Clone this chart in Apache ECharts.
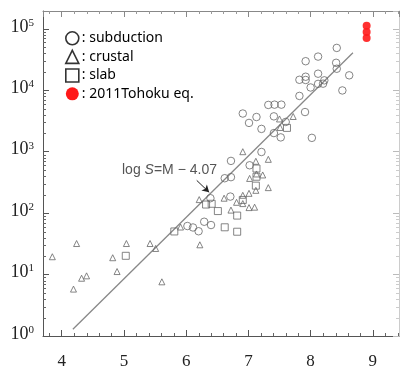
<!DOCTYPE html>
<html>
<head>
<meta charset="utf-8">
<script src="https://cdn.jsdelivr.net/npm/echarts@6/dist/echarts.min.js"></script>
<style>
html,body{margin:0;padding:0;background:#fff;}
#c{width:401px;height:370px;}
</style>
</head>
<body>
<div id="c"></div>
<script>
// ---- data (magnitude M, area S) ----
const subM = [8.42,8.12,7.92,8.41,8.42,8.62,8.12,7.82,7.92,7.92,8.22,8.12,8.20,8.00,8.51,7.82,7.32,7.42,7.53,6.91,7.13,7.41,7.91,7.01,7.21,7.41,7.52,8.02,7.21,6.72,7.02,6.62,6.72,6.71,6.39,6.29,6.40,6.02,6.11,6.20,7.60];
const subS = [48900,35300,29700,28000,22400,17500,18600,14800,16600,14700,14500,12700,12800,11100,9930,8090,5770,5830,5830,4180,3670,3760,4420,2940,2350,2010,1710,1680,989,708,601,370,385,186,175,72.4,64,61.7,58.4,50.7,3050];
const crustM = [7.50,7.72,7.51,6.91,7.32,7.12,7.13,7.02,7.23,7.32,7.12,7.01,6.91,6.61,6.81,6.91,7.01,7.10,6.72,6.21,5.91,6.22,4.24,5.04,5.42,3.85,4.82,5.51,4.89,4.32,4.40,4.19,5.61];
const crustS = [3410,3740,2480,1000,751,698,434,367,418,260,235,210,195,175,150,143,123,125,112,166,59.4,30.5,32,32,32,19.5,18.8,26.6,11.2,8.71,9.53,5.8,7.62];
const slabM = [7.62,7.13,7.13,7.12,6.32,6.41,6.91,6.51,6.82,6.62,6.82,5.81,5.03];
const slabS = [2440,532,391,280,138,142,164,108,91.2,58.8,49.8,50.3,20.2];
const tohokuM = [8.9,8.9,8.9];
const tohokuS = [112000,88500,70800];
// fitted line log S = M - 4.07 (end points)
const fitM = [4.18, 8.68];
const fitS = [1.29, 40700];
// annotation arrow (tail, head)
const arrowM = [6.17, 6.37];
const arrowS = [341, 218];
const seriesNames = ['subduction','crustal','slab','2011Tohoku eq.'];
const xTickLabels = [4,5,6,7,8,9];
const xMinorTicks = [3.8,4.2,4.4,4.6,4.8,5.2,5.4,5.6,5.8,6.2,6.4,6.6,6.8,7.2,7.4,7.6,7.8,8.2,8.4,8.6,8.8,9.2,9.4];
const yDecades = [1,10,100,1000,10000,100000];
const yMinorMult = [2,3,4,5,6,7,8,9];

const zip = (a,b) => a.map((v,i)=>[v,b[i]]);
const X_MIN = 3.7, X_MAX = 9.42, Y_MIN = 1, Y_MAX = 195000;

const minorData = [];
xMinorTicks.forEach(v => minorData.push([v, 10, 0]));
yDecades.forEach(d => yMinorMult.forEach(m => { if (d*m < Y_MAX) minorData.push([5, d*m, 1]); }));

const chart = echarts.init(document.getElementById('c'), null, {renderer:'canvas'});
const mk = (color) => ({color: 'rgba(255,255,255,0)', borderColor: color, borderWidth: 1});
const gray = '#666';

const option = {
  backgroundColor: '#fff',
  animation: false,
  grid: {left: 43, top: 11, right: 2, bottom: 31, containLabel: false},
  legend: {
    orient: 'vertical', left: 65, top: 31, itemGap: 4, itemWidth: 13, itemHeight: 13,
    padding: 0,
    selectedMode: false,
    formatter: n => ': ' + n,
    textStyle: {fontFamily: 'Noto Sans', fontSize: 14, color: '#000', lineHeight: 13, padding: [0,0,0,-2]},
    data: [
      {name: seriesNames[0], icon: 'circle', itemStyle: {color: '#fff', borderColor: '#000', borderWidth: 1.6}},
      {name: seriesNames[1], icon: 'triangle', itemStyle: {color: '#fff', borderColor: '#000', borderWidth: 1.6}},
      {name: seriesNames[2], icon: 'rect', itemStyle: {color: '#fff', borderColor: '#000', borderWidth: 1.6}},
      {name: seriesNames[3], icon: 'circle', itemStyle: {color: '#ff0000', borderWidth: 0}}
    ]
  },
  xAxis: [{
    type: 'value', min: X_MIN, max: X_MAX, position: 'bottom',
    axisLine: {lineStyle: {color: '#555', width: 1}},
    axisTick: {inside: true, length: 6, lineStyle: {color: '#555'}},
    axisLabel: {
      fontFamily: 'Liberation Serif', fontSize: 17, color: '#222', margin: 17,
      showMinLabel: false, showMaxLabel: false,
      formatter: v => xTickLabels.includes(v) ? String(v) : ''
    },
    splitLine: {show: false}
  }, {
    type: 'value', min: X_MIN, max: X_MAX, position: 'top',
    axisLine: {lineStyle: {color: '#888', width: 1}},
    axisTick: {inside: true, length: 6, lineStyle: {color: '#888'}},
    axisLabel: {show: false}, splitLine: {show: false}
  }],
  yAxis: [{
    type: 'log', logBase: 10, min: Y_MIN, max: Y_MAX, position: 'left',
    axisLine: {lineStyle: {color: '#555', width: 1}},
    axisTick: {inside: true, length: 6, lineStyle: {color: '#555'}},
    axisLabel: {
      margin: 9, showMaxLabel: false,
      formatter: v => {
        const e = Math.round(Math.log10(v));
        if (Math.abs(Math.pow(10, e) - v) > 1e-6 * v) return '';
        return '{b|10}{s|' + e + '}';
      },
      rich: {
        b: {fontFamily: 'Liberation Serif', fontSize: 18, color: '#222', padding: [0,0,4,0]},
        s: {fontFamily: 'Liberation Serif', fontSize: 11, color: '#222', padding: [0,0,12,0]}
      }
    },
    splitLine: {show: false}
  }, {
    type: 'log', logBase: 10, min: Y_MIN, max: Y_MAX, position: 'right',
    axisLine: {lineStyle: {color: '#ccc', width: 1}},
    axisTick: {inside: true, length: 6, lineStyle: {color: '#bbb'}},
    axisLabel: {show: false}, splitLine: {show: false}
  }],
  graphic: [{
    type: 'text', left: 122, top: 163, silent: true,
    style: {
      text: '{n|log }{i|S}{n|=M − 4.07}',
      rich: {
        n: {fontFamily: 'Liberation Sans', fontSize: 14, fill: '#555'},
        i: {fontFamily: 'Liberation Sans', fontSize: 14, fontStyle: 'italic', fill: '#555'}
      }
    }
  }],
  series: [
    {
      name: 'minor', type: 'custom', silent: true, clip: false, z: 1,
      encode: {x: 0, y: 1},
      data: minorData,
      renderItem: (params, api) => {
        const cs = params.coordSys;
        const kind = api.value(2);
        const st = {stroke: '#666', lineWidth: 1};
        if (kind === 0) {
          const px = Math.round(api.coord([api.value(0), 10])[0]) + 0.5;
          const yb = cs.y + cs.height, yt = cs.y;
          return {type: 'group', children: [
            {type: 'line', shape: {x1: px, y1: yb, x2: px, y2: yb - 3}, style: st},
            {type: 'line', shape: {x1: px, y1: yt, x2: px, y2: yt + 3}, style: {stroke: '#999', lineWidth: 1}}
          ]};
        } else {
          const py = Math.round(api.coord([5, api.value(1)])[1]) + 0.5;
          const xl = cs.x, xr = cs.x + cs.width;
          return {type: 'group', children: [
            {type: 'line', shape: {x1: xl, y1: py, x2: xl + 3, y2: py}, style: st},
            {type: 'line', shape: {x1: xr, y1: py, x2: xr - 3, y2: py}, style: {stroke: '#ccc', lineWidth: 1}}
          ]};
        }
      }
    },
    {
      name: 'fit', type: 'line', data: zip(fitM, fitS), symbol: 'none', silent: true, z: 2,
      lineStyle: {color: '#888', width: 1.3},
      markLine: {
        silent: true, symbol: ['none', 'arrow'], symbolSize: [6, 7],
        label: {show: false},
        lineStyle: {color: '#222', width: 1, type: 'solid'},
        data: [[{coord: [arrowM[0], arrowS[0]]}, {coord: [arrowM[1], arrowS[1]]}]]
      }
    },
    {name: seriesNames[0], type: 'scatter', symbol: 'circle', symbolSize: 7.5, data: zip(subM, subS), itemStyle: mk(gray), z: 3},
    {name: seriesNames[1], type: 'scatter', symbol: 'triangle', symbolSize: 6, data: zip(crustM, crustS), itemStyle: mk(gray), z: 3},
    {name: seriesNames[2], type: 'scatter', symbol: 'rect', symbolSize: 7, data: zip(slabM, slabS), itemStyle: mk(gray), z: 3},
    {name: seriesNames[3], type: 'scatter', symbol: 'circle', symbolSize: 8, data: zip(tohokuM, tohokuS), itemStyle: {color: '#ff1a1a', opacity: 0.9}, z: 4}
  ]
};
chart.setOption(option);
</script>
</body>
</html>
